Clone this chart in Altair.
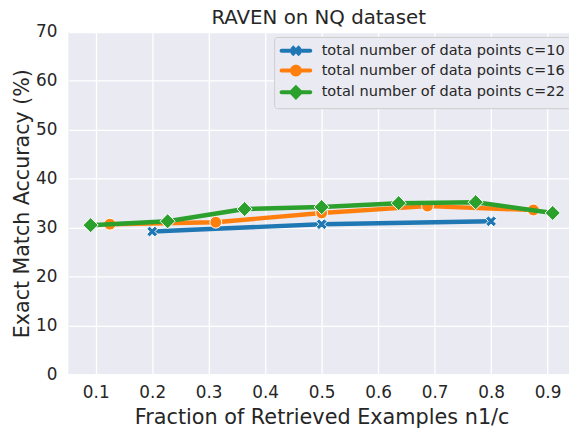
import altair as alt
import pandas as pd

# ---------------- data ----------------
series_names = [
    "total number of data points c=10",
    "total number of data points c=16",
    "total number of data points c=22",
]
c10_x = [0.2, 0.5, 0.8]
c10_y = [29.2, 30.7, 31.3]
c16_x = [0.125, 0.3125, 0.5, 0.6875, 0.875]
c16_y = [30.7, 31.1, 33.0, 34.4, 33.6]
c22_x = [0.0909, 0.2273, 0.3636, 0.5, 0.6364, 0.7727, 0.9091]
c22_y = [30.5, 31.3, 33.8, 34.2, 35.0, 35.2, 33.0]

x_ticks = [0.1, 0.2, 0.3, 0.4, 0.5, 0.6, 0.7, 0.8, 0.9]
y_ticks = [0, 10, 20, 30, 40, 50, 60, 70]

colors = ["#1f77b4", "#ff7f0e", "#2ca02c"]

# marker shapes (custom SVG paths)
X_PATH = ("M-0.733,-0.356 L-0.356,-0.733 L0,-0.377 L0.356,-0.733 L0.733,-0.356 "
          "L0.377,0 L0.733,0.356 L0.356,0.733 L0,0.377 L-0.356,0.733 L-0.733,0.356 L-0.377,0 Z")
CIRCLE_PATH = "M0.8,0 A0.8,0.8 0 1,1 -0.8,0 A0.8,0.8 0 1,1 0.8,0 Z"
DIAMOND_PATH = "M0,-1.02 L1.02,0 L0,1.02 L-1.02,0 Z"
LINE_PATH = ("M-1.933,-0.267 L1.933,-0.267 A0.267,0.267 0 0,1 1.933,0.267 "
             "L-1.933,0.267 A0.267,0.267 0 0,1 -1.933,-0.267 Z ")
marker_paths = [X_PATH, CIRCLE_PATH, DIAMOND_PATH]
legend_paths = [LINE_PATH + p for p in marker_paths]

rows = []
for name, xs, ys in zip(series_names, [c10_x, c16_x, c22_x], [c10_y, c16_y, c22_y]):
    for xv, yv in zip(xs, ys):
        rows.append({"series": name, "frac": xv, "acc": yv})
df = pd.DataFrame(rows)

FONT = "DejaVu Sans"
TXT = "#262626"

x_enc = alt.X(
    "frac:Q",
    scale=alt.Scale(domain=[0.0515, 0.938], nice=False, zero=False),
    axis=alt.Axis(
        values=x_ticks, format=".1f", title="Fraction of Retrieved Examples n1/c",
        grid=True, gridColor="white", gridWidth=1.3, domain=False, ticks=False, tickSize=0,
        labelFontSize=17, titleFontSize=21, labelPadding=10.5, titlePadding=6.5,
        titleX=256,
        labelColor=TXT, titleColor=TXT, labelFont=FONT, titleFont=FONT,
        titleFontWeight="normal", labelFlush=False,
    ),
)
y_enc = alt.Y(
    "acc:Q",
    scale=alt.Scale(domain=[0, 70], nice=False, zero=True),
    axis=alt.Axis(
        values=y_ticks, format="d", title="Exact Match Accuracy (%)",
        grid=True, gridColor="white", gridWidth=1.3, domain=False, ticks=False, tickSize=0,
        labelFontSize=17, titleFontSize=20.8, labelPadding=11.5, titlePadding=3.5,
        labelColor=TXT, titleColor=TXT, labelFont=FONT, titleFont=FONT,
        titleFontWeight="normal", labelFlush=False,
    ),
)

color_scale = alt.Scale(domain=series_names, range=colors)

legend = alt.Legend(
    title=None, orient="none", legendX=208, legendY=5,
    symbolSize=225, symbolOpacity=1, symbolStrokeColor="white", symbolStrokeWidth=1,
    symbolOffset=8, labelOffset=18, labelFontSize=14.7, labelFont=FONT, labelColor=TXT,
    fillColor="#EAEAF2", strokeColor="#cccccc", cornerRadius=3, padding=6, rowPadding=4,
    labelLimit=400,
)

base = alt.Chart(df)

legend_layer = base.mark_point(filled=True, opacity=0, size=225).encode(
    x=x_enc, y=y_enc,
    color=alt.Color("series:N", scale=color_scale, legend=legend),
    shape=alt.Shape("series:N", scale=alt.Scale(domain=series_names, range=legend_paths), legend=legend),
)

layers = [legend_layer]
for name in series_names:
    sub = base.transform_filter(alt.datum.series == name)
    line = sub.mark_line(strokeWidth=4.5, strokeCap="round", strokeJoin="round").encode(
        x=x_enc, y=y_enc,
        color=alt.Color("series:N", scale=color_scale, legend=None),
    )
    pts = sub.mark_point(filled=True, size=225, stroke="white", strokeWidth=1, opacity=1).encode(
        x=x_enc, y=y_enc,
        color=alt.Color("series:N", scale=color_scale, legend=None),
        shape=alt.Shape("series:N", scale=alt.Scale(domain=series_names, range=marker_paths), legend=None),
    )
    layers += [line, pts]

chart = alt.layer(*layers).resolve_scale(
    color="independent", shape="independent"
).properties(
    width=506, height=346,
    background="white",
    autosize=alt.AutoSizeParams(type="none"),
    padding={"left": 61, "top": 22, "right": 0, "bottom": 54},
    title=alt.Title(
        "RAVEN on NQ dataset", fontSize=20, font=FONT, fontWeight="normal", color=TXT,
        offset=0, dy=5, baseline="top", frame="group", anchor="middle",
    ),
).configure_view(fill="#EAEAF2", stroke=None)

chart.save("out.html", embed_options={"renderer": "svg", "actions": False})
